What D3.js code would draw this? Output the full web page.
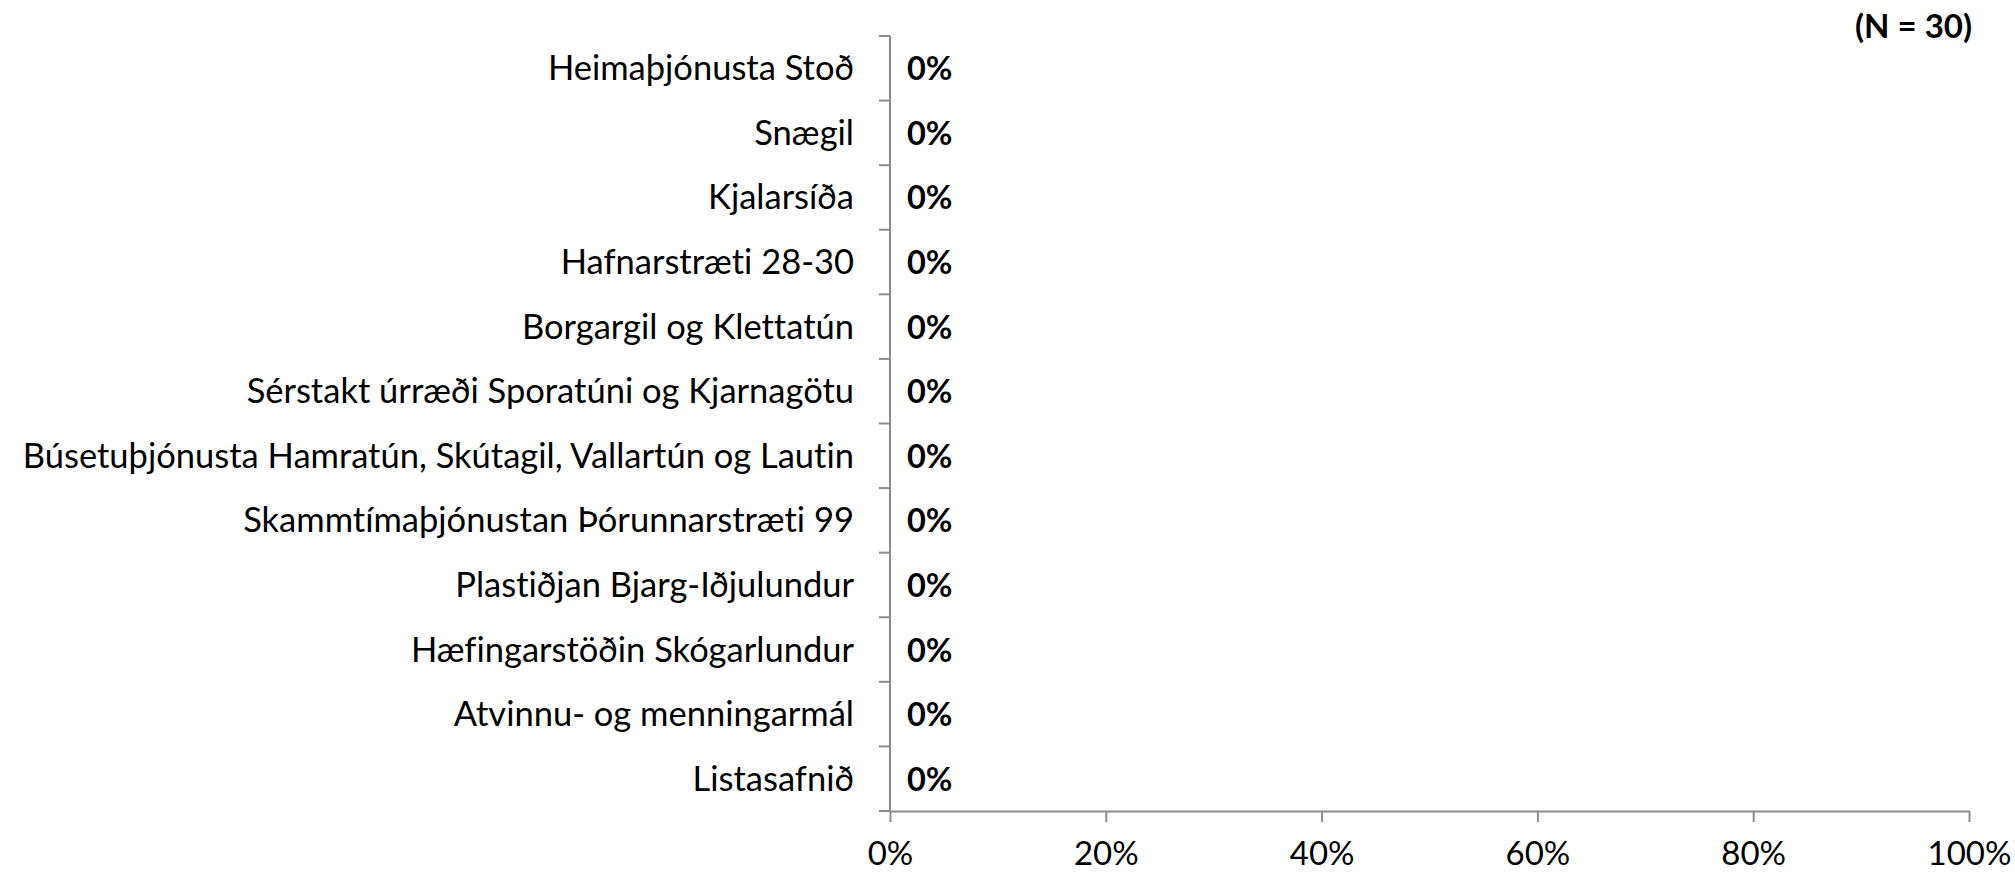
<!DOCTYPE html>
<html>
<head>
<meta charset="utf-8">
<script src="https://cdn.jsdelivr.net/npm/d3@7"></script>
<style>
  html, body { margin: 0; padding: 0; background: #fff; }
  svg { display: block; }
  text { font-family: Lato, "Noto Sans", sans-serif; fill: #000; font-variant-ligatures: none; }
</style>
</head>
<body>
<svg id="chart" width="2015" height="874"></svg>
<script>
// Service units, listed top to bottom
const categories = [
  "Heimaþjónusta Stoð",
  "Snægil",
  "Kjalarsíða",
  "Hafnarstræti 28-30",
  "Borgargil og Klettatún",
  "Sérstakt úrræði Sporatúni og Kjarnagötu",
  "Búsetuþjónusta Hamratún, Skútagil, Vallartún og Lautin",
  "Skammtímaþjónustan Þórunnarstræti 99",
  "Plastiðjan Bjarg-Iðjulundur",
  "Hæfingarstöðin Skógarlundur",
  "Atvinnu- og menningarmál",
  "Listasafnið"
];
// Share of responses per unit
const values = [0, 0, 0, 0, 0, 0, 0, 0, 0, 0, 0, 0];
const xTicks = [0, 0.2, 0.4, 0.6, 0.8, 1.0];
const sampleNote = "(N = 30)";

const svg = d3.select("#chart");
const axisColor = "#8c8c8c";
const plotLeft = 890, plotRight = 1969, plotTop = 36, plotBottom = 811;

const x = d3.scaleLinear().domain([0, 1]).range([plotLeft, plotRight]);
const y = d3.scaleBand().domain(categories).range([plotTop, plotBottom]);

// X axis
const xAxis = svg.append("g")
  .attr("transform", `translate(0,${plotBottom})`)
  .call(d3.axisBottom(x).tickValues(xTicks).tickFormat(d3.format(".0%")).tickSize(11).tickSizeOuter(0));
xAxis.select(".domain").attr("stroke", axisColor).attr("stroke-width", 2);
xAxis.selectAll(".tick line").attr("stroke", axisColor).attr("stroke-width", 2);
xAxis.selectAll(".tick text")
  .attr("y", 54).attr("dy", 0)
  .style("font-size", "33px").style("font-family", "Lato, sans-serif").attr("fill", "#000");

// Y axis: line with ticks between categories
const yAxis = svg.append("g");
yAxis.append("line")
  .attr("x1", plotLeft).attr("x2", plotLeft).attr("y1", plotTop).attr("y2", plotBottom)
  .attr("stroke", axisColor).attr("stroke-width", 2);
const edges = categories.map(c => y(c)).concat([plotBottom]);
yAxis.selectAll("line.tk").data(edges).join("line")
  .attr("class", "tk")
  .attr("x1", plotLeft - 11).attr("x2", plotLeft)
  .attr("y1", d => d).attr("y2", d => d)
  .attr("stroke", axisColor).attr("stroke-width", 2);

// Category labels
svg.append("g").selectAll("text").data(categories).join("text")
  .attr("x", 854)
  .attr("y", d => y(d) + y.bandwidth() / 2 + 12)
  .attr("text-anchor", "end")
  .style("font-size", "34.5px")
  .text(d => d);

// Bars
svg.append("g").selectAll("rect").data(values).join("rect")
  .attr("x", x(0))
  .attr("y", (d, i) => y(categories[i]) + y.bandwidth() * 0.2)
  .attr("height", y.bandwidth() * 0.6)
  .attr("width", d => x(d) - x(0))
  .attr("fill", "#4f81bd");

// Value labels
svg.append("g").selectAll("text").data(values).join("text")
  .attr("x", d => x(d) + 17)
  .attr("y", (d, i) => y(categories[i]) + y.bandwidth() / 2 + 12)
  .style("font-size", "32.5px")
  .style("font-weight", "bold")
  .text(d => d3.format(".0%")(d));

// Sample size note
svg.append("text")
  .attr("x", 1972).attr("y", 38)
  .attr("text-anchor", "end")
  .style("font-size", "33px")
  .style("font-weight", "bold")
  .text(sampleNote);
</script>
</body>
</html>
